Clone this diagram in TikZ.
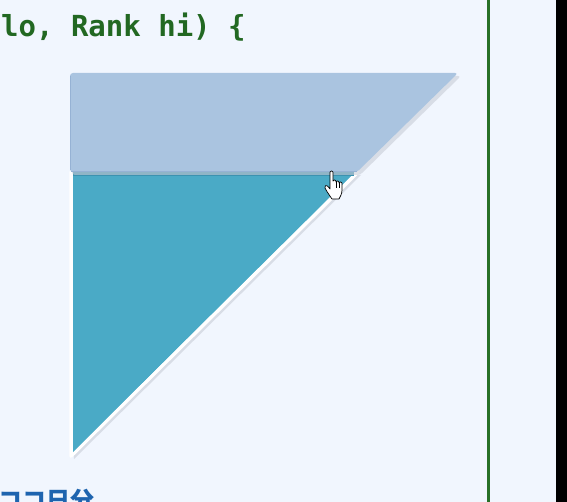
\documentclass[tikz,border=0pt]{standalone}
\usepackage{fontspec}
\newfontfamily\codefont{DejaVu Sans Mono}
\newfontfamily\jpfont{Noto Sans CJK JP}
\definecolor{bgc}{RGB}{241,246,254}
\definecolor{bandc}{RGB}{170,196,224}
\definecolor{banded}{RGB}{150,178,212}
\definecolor{tealc}{RGB}{74,170,198}
\definecolor{tealdk}{RGB}{60,146,176}
\definecolor{codegreen}{RGB}{34,104,34}
\definecolor{linegreen}{RGB}{40,112,40}
\definecolor{jpblue}{RGB}{30,100,175}
\definecolor{shadowc}{RGB}{200,205,215}
\tikzset{
  codetext/.style={anchor=base west, inner sep=0pt, text=codegreen, font=\codefont\bfseries\fontsize{29}{30}\selectfont},
  jptext/.style={anchor=base west, inner sep=0pt, text=jpblue, font=\jpfont\bfseries\fontsize{24}{26}\selectfont},
}
\begin{document}
\begin{tikzpicture}[x=1pt,y=-1pt]
\useasboundingbox (0,0) rectangle (567,502);
\clip (0,0) rectangle (567,502);
\fill[bgc] (0,0) rectangle (567,502);
% black strip right
\fill[black] (556,0) rectangle (567,502);
% green vertical line
\fill[linegreen] (487,0) rectangle (490,502);
% code text
\node[codetext] (code) at (1,37) {lo, Rank hi) \{};
% bottom japanese text (cut off by the frame edge)
\node[jptext] (jp) at (-2,509) {ココ日分};
% triangle shadow
\fill[shadowc, opacity=0.6] (73,175) -- (361,175) -- (74,459) -- cycle;
% triangle with white outline
\coordinate (tl) at (71,172);
\coordinate (tr) at (358,172);
\coordinate (bt) at (71,456);
\draw[white, line width=3.5pt, fill=tealc, line join=round] (tl) -- (tr) -- (bt) -- cycle;
\fill[tealc] (73,172) -- (354,172) -- (73,452) -- cycle;
\fill[tealdk] (73,172) rectangle (354,176);
% band shadow
\fill[shadowc, opacity=0.6, rounded corners=3pt] (72,76) -- (461,76) -- (360,175) -- (72,175) -- cycle;
% band trapezoid
\coordinate (a) at (70,73);
\coordinate (b) at (458,73);
\coordinate (c) at (357,172);
\coordinate (d) at (70,172);
\fill[bandc, rounded corners=3pt] (a) -- (b) -- (c) -- (d) -- cycle;
\draw[banded, line width=1.2pt] (71,171.5) -- (357,171.5);
\draw[banded, line width=0.8pt] (70.5,170) -- (70.5,76);
% hand cursor
\begin{scope}[shift={(327,172)}]
\draw[black, fill=white, line width=0.7pt, line join=round]
  (3,0) .. controls (3,-1.5) and (6,-1.5) .. (6,0)
  -- (6,9) .. controls (6,7.5) and (9,7.5) .. (9,9)
  -- (9,10) .. controls (9,8.5) and (12,8.5) .. (12,10)
  -- (12,11) .. controls (12,9.5) and (15,9.5) .. (15,11)
  -- (15,18) .. controls (15,22) and (13,25) .. (12,27)
  -- (5,27) .. controls (3,24) and (0,20) .. (-2,16)
  .. controls (-3,14) and (-1,12.5) .. (1,14.5)
  -- (3,17) -- cycle;
\draw[black, line width=0.5pt] (9,10) -- (9,16) (12,11) -- (12,16);
\end{scope}
\end{tikzpicture}
\end{document}
